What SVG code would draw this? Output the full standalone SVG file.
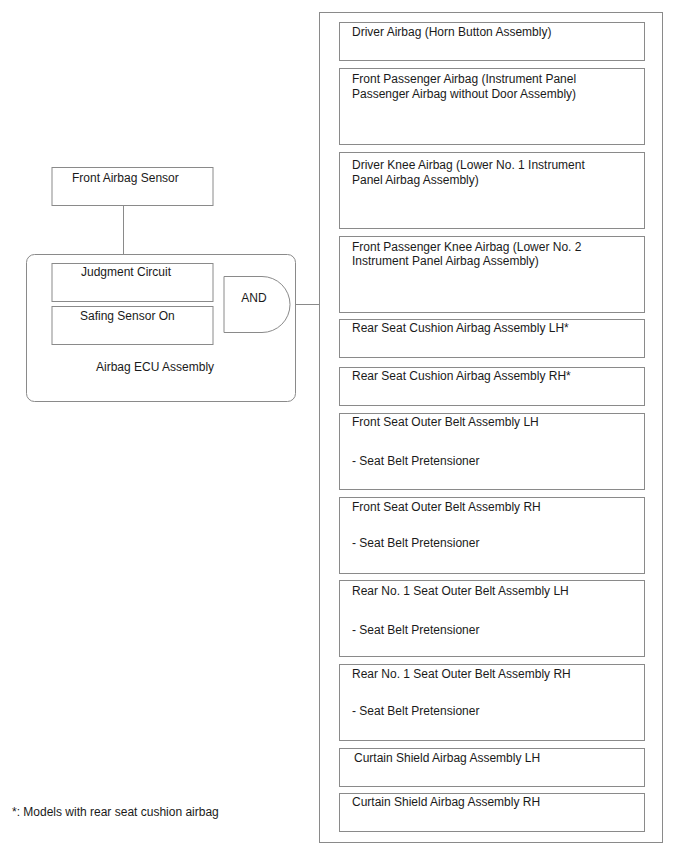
<svg xmlns="http://www.w3.org/2000/svg" width="688" height="852" viewBox="0 0 688 852">
<style>
.b{fill:#fff;stroke:#8a8a8a;stroke-width:1}
.w{fill:none;stroke:#8a8a8a;stroke-width:1}
text{font-family:"Liberation Sans",Arial,sans-serif;font-size:12px;fill:#1a1a1a}
</style>
<rect width="688" height="852" fill="#fff"/>
<g id="connectors">
<line class="w" x1="123.5" y1="206" x2="123.5" y2="263.5"/>
<line class="w" x1="213" y1="283.5" x2="224" y2="283.5"/>
<line class="w" x1="213" y1="325.5" x2="224" y2="325.5"/>
<line class="w" x1="290" y1="304.5" x2="319.5" y2="304.5"/>
</g>
<g id="front-airbag-sensor">
<rect class="b" x="52" y="167.5" width="161" height="38"/>
<text x="72" y="182">Front Airbag Sensor</text>
</g>
<g id="airbag-ecu">
<rect class="b" x="26.5" y="254.5" width="269" height="147" rx="8"/>
<text x="96" y="371">Airbag ECU Assembly</text>
</g>
<g id="judgment-circuit">
<rect class="b" x="52" y="263.5" width="161" height="38"/>
<text x="81" y="276">Judgment Circuit</text>
</g>
<g id="safing-sensor">
<rect class="b" x="52" y="306.5" width="161" height="38"/>
<text x="80" y="319.5">Safing Sensor On</text>
</g>
<g id="and-gate">
<path class="b" d="M224,276.5 H262 A28,28 0 0 1 262,332.5 H224 Z"/>
<text x="254" y="302" text-anchor="middle">AND</text>
</g>
<g id="outputs">
<rect class="b" x="319.5" y="12.5" width="343" height="830"/>
</g>
<g id="driver-airbag">
<rect class="b" x="339.5" y="22.5" width="305" height="38"/>
<text x="352" y="35.5">Driver Airbag (Horn Button Assembly)</text>
</g>
<g id="front-passenger-airbag">
<rect class="b" x="339.5" y="68.5" width="305" height="76"/>
<text x="352" y="83">Front Passenger Airbag (Instrument Panel</text>
<text x="352" y="97.5">Passenger Airbag without Door Assembly)</text>
</g>
<g id="driver-knee-airbag">
<rect class="b" x="339.5" y="152.5" width="305" height="76"/>
<text x="352" y="168.5">Driver Knee Airbag (Lower No. 1 Instrument</text>
<text x="352" y="183.5">Panel Airbag Assembly)</text>
</g>
<g id="front-passenger-knee-airbag">
<rect class="b" x="339.5" y="236.5" width="305" height="76"/>
<text x="352" y="250.5">Front Passenger Knee Airbag (Lower No. 2</text>
<text x="352" y="265">Instrument Panel Airbag Assembly)</text>
</g>
<g id="rear-seat-cushion-lh">
<rect class="b" x="339.5" y="319.5" width="305" height="38"/>
<text x="352" y="332">Rear Seat Cushion Airbag Assembly LH*</text>
</g>
<g id="rear-seat-cushion-rh">
<rect class="b" x="339.5" y="367.5" width="305" height="38"/>
<text x="352" y="380">Rear Seat Cushion Airbag Assembly RH*</text>
</g>
<g id="front-seat-belt-lh">
<rect class="b" x="339.5" y="413.5" width="305" height="76"/>
<text x="352" y="426">Front Seat Outer Belt Assembly LH</text>
<text x="352" y="465">- Seat Belt Pretensioner</text>
</g>
<g id="front-seat-belt-rh">
<rect class="b" x="339.5" y="497.5" width="305" height="76"/>
<text x="352" y="511">Front Seat Outer Belt Assembly RH</text>
<text x="352" y="547">- Seat Belt Pretensioner</text>
</g>
<g id="rear-seat-belt-lh">
<rect class="b" x="339.5" y="580.5" width="305" height="76"/>
<text x="352" y="595">Rear No. 1 Seat Outer Belt Assembly LH</text>
<text x="352" y="634">- Seat Belt Pretensioner</text>
</g>
<g id="rear-seat-belt-rh">
<rect class="b" x="339.5" y="664.5" width="305" height="76"/>
<text x="352" y="678">Rear No. 1 Seat Outer Belt Assembly RH</text>
<text x="352" y="715">- Seat Belt Pretensioner</text>
</g>
<g id="curtain-lh">
<rect class="b" x="339.5" y="748.5" width="305" height="38"/>
<text x="354" y="762">Curtain Shield Airbag Assembly LH</text>
</g>
<g id="curtain-rh">
<rect class="b" x="339.5" y="793.5" width="305" height="38"/>
<text x="352" y="806">Curtain Shield Airbag Assembly RH</text>
</g>
<g id="footnote">
<text x="12" y="816">*: Models with rear seat cushion airbag</text>
</g>
</svg>
